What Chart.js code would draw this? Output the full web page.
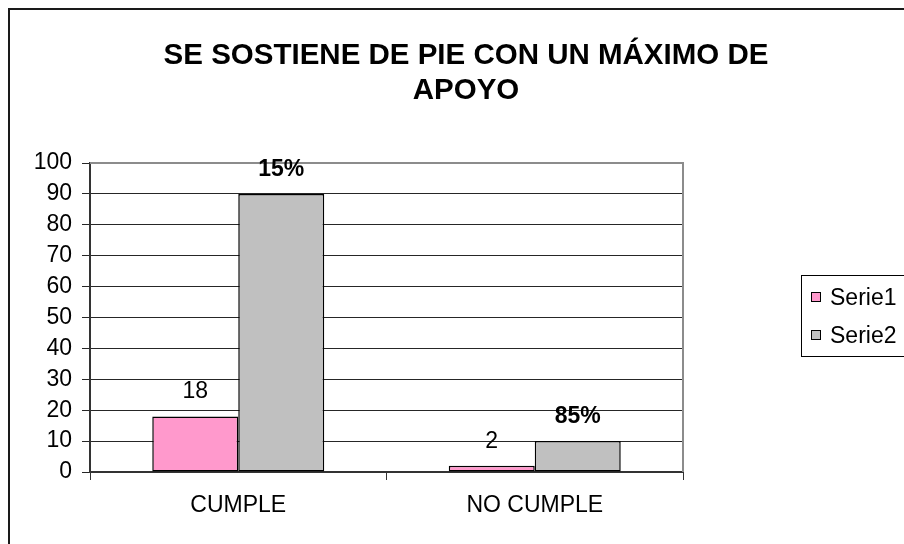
<!DOCTYPE html>
<html>
<head>
<meta charset="utf-8">
<script src="https://cdn.jsdelivr.net/npm/chart.js@4"></script>
<style>
  body { margin: 0; background: #fff; }
  #myChart { display: block; }
</style>
</head>
<body>
<canvas id="myChart" width="904" height="544"></canvas>
<script>
// data
const categories = ['CUMPLE', 'NO CUMPLE'];
const serie1 = [18, 2];
const serie2 = [90, 10];
const serie1Labels = ['18', '2'];
const serie2Labels = ['15%', '85%'];
const seriesNames = ['Serie1', 'Serie2'];
const titleLines = ['SE SOSTIENE DE PIE CON UN MÁXIMO DE', 'APOYO'];
const yMin = 0, yMax = 100, yStep = 10;

const FONT = '"Liberation Sans", Arial, sans-serif';

/**
 * Frame, title, plot border, value labels and the boxed legend (Excel look)
 */
const excelLook = {
    id: 'excelLook',
    beforeDraw(chart) {
        const ctx = chart.ctx;
        ctx.save();
        ctx.fillStyle = '#fff';
        ctx.fillRect(0, 0, chart.width, chart.height);
        // outer frame, right and bottom edge are off the picture
        ctx.fillStyle = '#1a1a1a';
        ctx.fillRect(8, 8, chart.width - 8, 2);
        ctx.fillRect(8, 8, 2, chart.height - 8);
        // title
        ctx.fillStyle = '#000';
        ctx.font = 'bold 29.5px ' + FONT;
        ctx.textAlign = 'center';
        ctx.textBaseline = 'alphabetic';
        ctx.fillText(titleLines[0], 466, 64);
        ctx.fillText(titleLines[1], 466, 99);
        ctx.restore();
    },
    afterDatasetsDraw(chart) {
        const ctx = chart.ctx;
        const area = chart.chartArea;
        ctx.save();
        // plot area border top/right
        ctx.strokeStyle = '#8c8c8c';
        ctx.lineWidth = 2;
        ctx.beginPath();
        ctx.moveTo(area.left, area.top);
        ctx.lineTo(area.right, area.top);
        ctx.lineTo(area.right, area.bottom);
        ctx.stroke();
        // value labels
        ctx.fillStyle = '#000';
        ctx.textAlign = 'center';
        ctx.textBaseline = 'alphabetic';
        const labelSets = [serie1Labels, serie2Labels];
        chart.data.datasets.forEach((ds, i) => {
            const meta = chart.getDatasetMeta(i);
            ctx.font = (i === 1 ? 'bold ' : '') + '23px ' + FONT;
            meta.data.forEach((bar, j) => {
                ctx.fillText(labelSets[i][j], bar.x, bar.y - 18);
            });
        });
        // legend box
        ctx.strokeStyle = '#000';
        ctx.lineWidth = 1;
        ctx.strokeRect(801.5, 275.5, 200, 81);
        ctx.font = '23px ' + FONT;
        ctx.textAlign = 'left';
        chart.data.datasets.forEach((ds, i) => {
            const cy = 297 + i * 38;
            ctx.fillStyle = ds.backgroundColor;
            ctx.fillRect(811, cy - 5, 10, 10);
            ctx.strokeRect(811.5, cy - 4.5, 9, 9);
            ctx.fillStyle = '#000';
            ctx.fillText(ds.label, 830, cy + 8);
        });
        ctx.restore();
    }
};

const ctx = document.getElementById('myChart').getContext('2d');
const myChart = new Chart(ctx, {
    type: 'bar',
    data: {
        labels: categories,
        datasets: [{
            label: seriesNames[0],
            data: serie1,
            backgroundColor: '#ff99cc',
            borderColor: '#000',
            borderWidth: 1.5,
            borderSkipped: false
        }, {
            label: seriesNames[1],
            data: serie2,
            backgroundColor: '#c0c0c0',
            borderColor: '#000',
            borderWidth: 1.5,
            borderSkipped: false
        }]
    },
    options: {
        responsive: false,
        animation: false,
        devicePixelRatio: 1,
        datasets: {
            bar: { categoryPercentage: 0.58, barPercentage: 1 }
        },
        layout: {
            padding: { top: 163, left: 0, right: 221, bottom: 0 }
        },
        plugins: {
            legend: { display: false },
            title: { display: false },
            tooltip: { enabled: false }
        },
        scales: {
            x: {
                afterFit: (scale) => { scale.height = 72; },
                grid: {
                    drawOnChartArea: false,
                    tickLength: 8,
                    color: '#333',
                    offset: true
                },
                border: { color: '#333', width: 2 },
                ticks: {
                    color: '#000',
                    font: { family: FONT, size: 23 },
                    padding: 12
                }
            },
            y: {
                min: yMin,
                max: yMax,
                afterFit: (scale) => { scale.width = 90; },
                grid: {
                    color: '#262626',
                    tickLength: 8
                },
                border: { color: '#333', width: 2 },
                ticks: {
                    stepSize: yStep,
                    color: '#000',
                    font: { family: FONT, size: 23 },
                    padding: 10
                }
            }
        }
    },
    plugins: [excelLook]
});
</script>
</body>
</html>
